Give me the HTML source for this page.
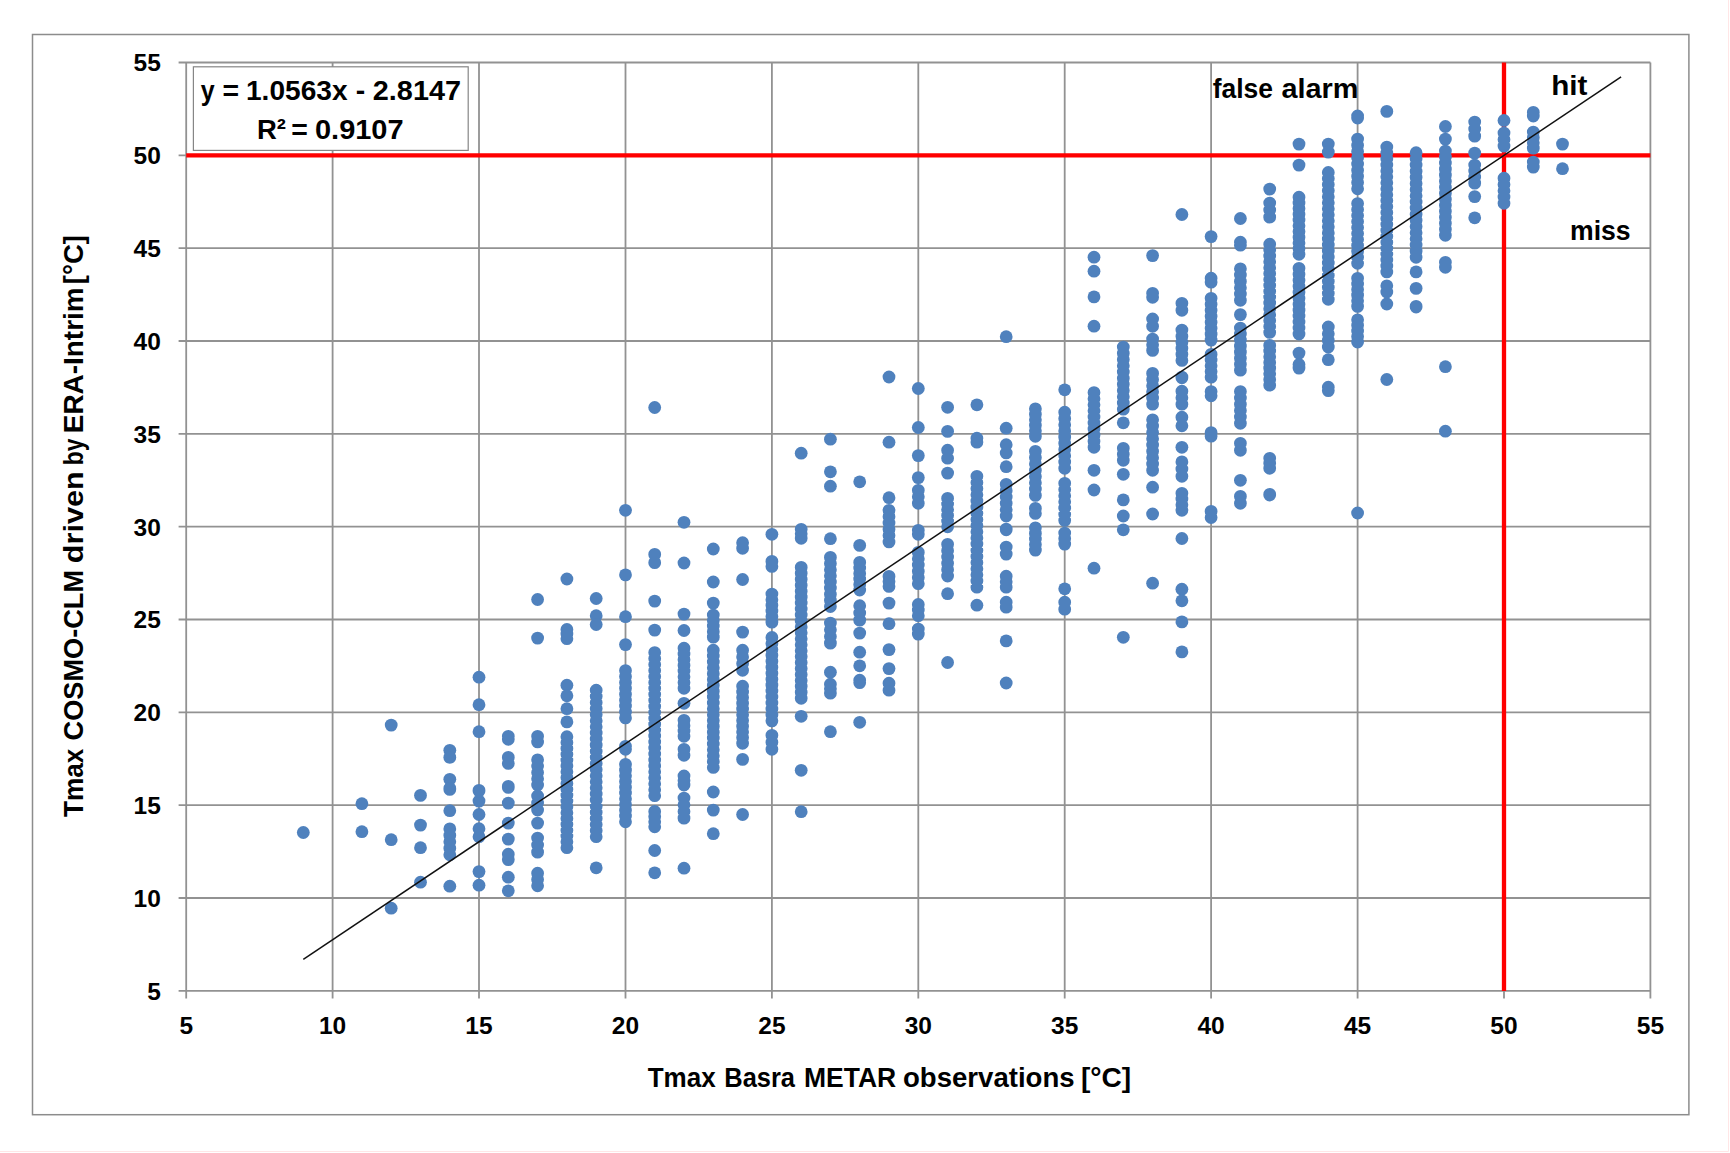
<!DOCTYPE html>
<html lang="en"><head><meta charset="utf-8"><title>Tmax scatter</title>
<style>html,body{margin:0;padding:0;background:#fff}body{width:1730px;height:1153px;overflow:hidden}svg{display:block}text{font-family:"Liberation Sans",Arial,sans-serif;font-weight:bold;fill:#000}.t{font-size:24.5px}.h{font-size:28.4px}</style></head><body>
<svg width="1730" height="1153" viewBox="0 0 1730 1153">
<rect width="1730" height="1153" fill="#fff"/>
<path d="M0 1151.5H1728.5V0" fill="none" stroke="#ffe6e6" stroke-width="1"/>
<rect x="32.5" y="34.5" width="1656.4" height="1080.2" fill="#fff" stroke="#8c8c8c" stroke-width="1.5"/>
<path d="M186.2 62.5V998.6M178.6 990.9H1650.4M332.6 62.5V998.6M178.6 898.0H1650.4M479.0 62.5V998.6M178.6 805.2H1650.4M625.5 62.5V998.6M178.6 712.3H1650.4M771.9 62.5V998.6M178.6 619.5H1650.4M918.3 62.5V998.6M178.6 526.7H1650.4M1064.7 62.5V998.6M178.6 433.8H1650.4M1211.1 62.5V998.6M178.6 341.0H1650.4M1357.6 62.5V998.6M178.6 248.2H1650.4M1504.0 62.5V998.6M178.6 155.3H1650.4M1650.4 62.5V998.6M178.6 62.5H1650.4" fill="none" stroke="#929292" stroke-width="1.8"/>
<path d="M186.2 155.3H1650.4M1504.0 62.5V990.9" fill="none" stroke="#FF0000" stroke-width="4.3"/>
<g fill="#4F81BD" stroke="#4F81BD" stroke-width="12.8" stroke-linecap="round">
<g stroke="none"><circle cx="303.3" cy="832.5" r="6.4"/><circle cx="361.9" cy="803.7" r="6.4"/><circle cx="361.9" cy="831.7" r="6.4"/><circle cx="391.2" cy="725.1" r="6.4"/><circle cx="391.2" cy="839.7" r="6.4"/><circle cx="391.2" cy="908.2" r="6.4"/><circle cx="420.5" cy="795.4" r="6.4"/><circle cx="420.5" cy="825.1" r="6.4"/><circle cx="420.5" cy="847.7" r="6.4"/><circle cx="420.5" cy="882.2" r="6.4"/><circle cx="449.8" cy="750.3" r="6.4"/><circle cx="449.8" cy="757.4" r="6.4"/><circle cx="449.8" cy="779.3" r="6.4"/><circle cx="449.8" cy="810.7" r="6.4"/><circle cx="449.8" cy="886.2" r="6.4"/><circle cx="479.0" cy="677.2" r="6.4"/><circle cx="479.0" cy="704.7" r="6.4"/><circle cx="479.0" cy="731.7" r="6.4"/><circle cx="479.0" cy="801.1" r="6.4"/><circle cx="479.0" cy="814.5" r="6.4"/><circle cx="479.0" cy="871.6" r="6.4"/><circle cx="479.0" cy="885.2" r="6.4"/><circle cx="508.3" cy="803.1" r="6.4"/><circle cx="508.3" cy="823.1" r="6.4"/><circle cx="508.3" cy="839.1" r="6.4"/><circle cx="508.3" cy="877.2" r="6.4"/><circle cx="508.3" cy="890.8" r="6.4"/><circle cx="537.6" cy="599.5" r="6.4"/><circle cx="537.6" cy="638.1" r="6.4"/><circle cx="537.6" cy="823.1" r="6.4"/><circle cx="566.9" cy="579.0" r="6.4"/><circle cx="566.9" cy="685.2" r="6.4"/><circle cx="566.9" cy="695.8" r="6.4"/><circle cx="566.9" cy="708.7" r="6.4"/><circle cx="566.9" cy="721.9" r="6.4"/><circle cx="596.2" cy="598.5" r="6.4"/><circle cx="596.2" cy="615.7" r="6.4"/><circle cx="596.2" cy="624.5" r="6.4"/><circle cx="596.2" cy="867.8" r="6.4"/><circle cx="625.5" cy="510.3" r="6.4"/><circle cx="625.5" cy="574.9" r="6.4"/><circle cx="625.5" cy="616.7" r="6.4"/><circle cx="625.5" cy="644.6" r="6.4"/><circle cx="654.7" cy="407.5" r="6.4"/><circle cx="654.7" cy="601.1" r="6.4"/><circle cx="654.7" cy="630.1" r="6.4"/><circle cx="654.7" cy="850.5" r="6.4"/><circle cx="654.7" cy="872.8" r="6.4"/><circle cx="684.0" cy="522.3" r="6.4"/><circle cx="684.0" cy="563.0" r="6.4"/><circle cx="684.0" cy="614.1" r="6.4"/><circle cx="684.0" cy="630.5" r="6.4"/><circle cx="684.0" cy="703.3" r="6.4"/><circle cx="684.0" cy="868.2" r="6.4"/><circle cx="713.3" cy="549.0" r="6.4"/><circle cx="713.3" cy="582.0" r="6.4"/><circle cx="713.3" cy="603.1" r="6.4"/><circle cx="713.3" cy="792.0" r="6.4"/><circle cx="713.3" cy="810.1" r="6.4"/><circle cx="713.3" cy="833.7" r="6.4"/><circle cx="742.6" cy="579.5" r="6.4"/><circle cx="742.6" cy="632.1" r="6.4"/><circle cx="742.6" cy="759.4" r="6.4"/><circle cx="742.6" cy="814.5" r="6.4"/><circle cx="771.9" cy="534.3" r="6.4"/><circle cx="801.2" cy="453.2" r="6.4"/><circle cx="801.2" cy="716.3" r="6.4"/><circle cx="801.2" cy="770.3" r="6.4"/><circle cx="801.2" cy="811.7" r="6.4"/><circle cx="830.4" cy="439.2" r="6.4"/><circle cx="830.4" cy="471.8" r="6.4"/><circle cx="830.4" cy="486.2" r="6.4"/><circle cx="830.4" cy="538.7" r="6.4"/><circle cx="830.4" cy="672.2" r="6.4"/><circle cx="830.4" cy="731.7" r="6.4"/><circle cx="859.7" cy="481.8" r="6.4"/><circle cx="859.7" cy="545.4" r="6.4"/><circle cx="859.7" cy="633.1" r="6.4"/><circle cx="859.7" cy="652.2" r="6.4"/><circle cx="859.7" cy="665.8" r="6.4"/><circle cx="859.7" cy="722.3" r="6.4"/><circle cx="889.0" cy="377.0" r="6.4"/><circle cx="889.0" cy="442.2" r="6.4"/><circle cx="889.0" cy="497.7" r="6.4"/><circle cx="889.0" cy="603.1" r="6.4"/><circle cx="889.0" cy="623.7" r="6.4"/><circle cx="889.0" cy="649.6" r="6.4"/><circle cx="889.0" cy="668.6" r="6.4"/><circle cx="918.3" cy="388.5" r="6.4"/><circle cx="918.3" cy="427.5" r="6.4"/><circle cx="918.3" cy="455.6" r="6.4"/><circle cx="918.3" cy="477.6" r="6.4"/><circle cx="947.6" cy="407.3" r="6.4"/><circle cx="947.6" cy="431.4" r="6.4"/><circle cx="947.6" cy="473.1" r="6.4"/><circle cx="947.6" cy="593.7" r="6.4"/><circle cx="947.6" cy="662.5" r="6.4"/><circle cx="976.9" cy="404.8" r="6.4"/><circle cx="976.9" cy="605.2" r="6.4"/><circle cx="1006.2" cy="336.7" r="6.4"/><circle cx="1006.2" cy="428.2" r="6.4"/><circle cx="1006.2" cy="466.7" r="6.4"/><circle cx="1006.2" cy="640.9" r="6.4"/><circle cx="1006.2" cy="683.0" r="6.4"/><circle cx="1064.7" cy="389.8" r="6.4"/><circle cx="1064.7" cy="588.8" r="6.4"/><circle cx="1094.0" cy="257.2" r="6.4"/><circle cx="1094.0" cy="271.2" r="6.4"/><circle cx="1094.0" cy="296.9" r="6.4"/><circle cx="1094.0" cy="326.2" r="6.4"/><circle cx="1094.0" cy="470.3" r="6.4"/><circle cx="1094.0" cy="490.0" r="6.4"/><circle cx="1094.0" cy="568.2" r="6.4"/><circle cx="1123.3" cy="422.8" r="6.4"/><circle cx="1123.3" cy="474.3" r="6.4"/><circle cx="1123.3" cy="499.9" r="6.4"/><circle cx="1123.3" cy="516.0" r="6.4"/><circle cx="1123.3" cy="529.8" r="6.4"/><circle cx="1123.3" cy="637.3" r="6.4"/><circle cx="1152.6" cy="255.6" r="6.4"/><circle cx="1152.6" cy="487.2" r="6.4"/><circle cx="1152.6" cy="514.0" r="6.4"/><circle cx="1152.6" cy="583.2" r="6.4"/><circle cx="1181.9" cy="214.5" r="6.4"/><circle cx="1181.9" cy="447.3" r="6.4"/><circle cx="1181.9" cy="538.5" r="6.4"/><circle cx="1181.9" cy="589.2" r="6.4"/><circle cx="1181.9" cy="600.8" r="6.4"/><circle cx="1181.9" cy="621.9" r="6.4"/><circle cx="1181.9" cy="651.9" r="6.4"/><circle cx="1211.1" cy="236.6" r="6.4"/><circle cx="1240.4" cy="218.5" r="6.4"/><circle cx="1240.4" cy="314.6" r="6.4"/><circle cx="1240.4" cy="480.3" r="6.4"/><circle cx="1269.7" cy="189.1" r="6.4"/><circle cx="1299.0" cy="144.1" r="6.4"/><circle cx="1299.0" cy="165.1" r="6.4"/><circle cx="1299.0" cy="353.1" r="6.4"/><circle cx="1328.3" cy="144.1" r="6.4"/><circle cx="1328.3" cy="152.1" r="6.4"/><circle cx="1328.3" cy="359.7" r="6.4"/><circle cx="1357.6" cy="513.0" r="6.4"/><circle cx="1386.8" cy="111.4" r="6.4"/><circle cx="1386.8" cy="304.0" r="6.4"/><circle cx="1386.8" cy="379.5" r="6.4"/><circle cx="1416.1" cy="271.9" r="6.4"/><circle cx="1416.1" cy="288.4" r="6.4"/><circle cx="1445.4" cy="126.5" r="6.4"/><circle cx="1445.4" cy="139.1" r="6.4"/><circle cx="1445.4" cy="366.7" r="6.4"/><circle cx="1445.4" cy="431.2" r="6.4"/><circle cx="1474.7" cy="153.1" r="6.4"/><circle cx="1474.7" cy="196.6" r="6.4"/><circle cx="1474.7" cy="217.8" r="6.4"/><circle cx="1504.0" cy="120.5" r="6.4"/><circle cx="1562.5" cy="144.1" r="6.4"/><circle cx="1562.5" cy="168.7" r="6.4"/></g>
<path d="M449.8 788.4V790.03" stroke-dasharray="0 1.024"/><path d="M449.8 828.9V855.35" stroke-dasharray="0 6.462"/><path d="M479.0 790.4V791.64" stroke-dasharray="0 0.623"/><path d="M479.0 828.7V837.32" stroke-dasharray="0 8.014"/><path d="M508.3 736.3V739.92" stroke-dasharray="0 3.005"/><path d="M508.3 757.4V763.97" stroke-dasharray="0 6.011"/><path d="M508.3 786.4V788.03" stroke-dasharray="0 1.024"/><path d="M508.3 854.2V860.16" stroke-dasharray="0 5.410"/><path d="M537.6 736.3V742.53" stroke-dasharray="0 5.610"/><path d="M537.6 759.8V785.61" stroke-dasharray="0 6.311"/><path d="M537.6 796.0V810.67" stroke-dasharray="0 7.013"/><path d="M537.6 838.1V852.75" stroke-dasharray="0 7.013"/><path d="M537.6 873.2V886.41" stroke-dasharray="0 6.311"/><path d="M566.9 629.5V639.34" stroke-dasharray="0 4.608"/><path d="M566.9 736.7V848.34" stroke-dasharray="0 5.843"/><path d="M596.2 690.2V837.32" stroke-dasharray="0 6.104"/><path d="M625.5 670.6V718.48" stroke-dasharray="0 5.911"/><path d="M625.5 746.3V749.94" stroke-dasharray="0 3.005"/><path d="M625.5 764.4V822.29" stroke-dasharray="0 5.733"/><path d="M654.7 554.4V563.20" stroke-dasharray="0 8.237"/><path d="M654.7 652.6V796.25" stroke-dasharray="0 5.962"/><path d="M654.7 811.5V827.30" stroke-dasharray="0 5.076"/><path d="M684.0 648.2V688.83" stroke-dasharray="0 5.725"/><path d="M684.0 720.3V736.92" stroke-dasharray="0 5.343"/><path d="M684.0 749.3V755.95" stroke-dasharray="0 6.011"/><path d="M684.0 776.0V785.61" stroke-dasharray="0 4.508"/><path d="M684.0 798.1V818.69" stroke-dasharray="0 6.679"/><path d="M713.3 615.1V637.74" stroke-dasharray="0 5.510"/><path d="M713.3 650.2V767.97" stroke-dasharray="0 5.861"/><path d="M742.6 542.7V548.96" stroke-dasharray="0 5.610"/><path d="M742.6 650.2V670.80" stroke-dasharray="0 6.679"/><path d="M742.6 686.2V743.93" stroke-dasharray="0 5.710"/><path d="M771.9 561.4V566.99" stroke-dasharray="0 5.009"/><path d="M771.9 594.1V622.71" stroke-dasharray="0 5.610"/><path d="M771.9 637.5V721.49" stroke-dasharray="0 5.954"/><path d="M771.9 735.3V749.94" stroke-dasharray="0 7.013"/><path d="M801.2 529.3V538.94" stroke-dasharray="0 4.508"/><path d="M801.2 567.4V698.85" stroke-dasharray="0 5.948"/><path d="M830.4 557.4V607.08" stroke-dasharray="0 6.139"/><path d="M830.4 623.1V643.75" stroke-dasharray="0 6.679"/><path d="M830.4 684.2V693.84" stroke-dasharray="0 4.508"/><path d="M859.7 562.4V590.65" stroke-dasharray="0 5.534"/><path d="M859.7 605.7V620.71" stroke-dasharray="0 7.213"/><path d="M859.7 680.2V683.22" stroke-dasharray="0 2.404"/><path d="M889.0 510.3V542.55" stroke-dasharray="0 6.331"/><path d="M889.0 576.4V587.05" stroke-dasharray="0 5.020"/><path d="M889.0 683.2V690.83" stroke-dasharray="0 7.013"/><path d="M918.3 490.3V503.88" stroke-dasharray="0 6.512"/><path d="M918.3 530.3V534.93" stroke-dasharray="0 4.007"/><path d="M918.3 552.4V584.24" stroke-dasharray="0 6.256"/><path d="M918.3 604.5V616.30" stroke-dasharray="0 5.610"/><path d="M918.3 629.1V634.73" stroke-dasharray="0 5.009"/><path d="M947.6 450.2V458.79" stroke-dasharray="0 8.014"/><path d="M947.6 498.4V527.28" stroke-dasharray="0 5.665"/><path d="M947.6 544.3V576.63" stroke-dasharray="0 6.336"/><path d="M976.9 438.2V442.86" stroke-dasharray="0 4.007"/><path d="M976.9 476.3V587.79" stroke-dasharray="0 6.160"/><path d="M1006.2 444.7V453.48" stroke-dasharray="0 8.215"/><path d="M1006.2 484.3V516.66" stroke-dasharray="0 6.347"/><path d="M1006.2 529.1V530.41" stroke-dasharray="0 0.725"/><path d="M1006.2 547.1V554.73" stroke-dasharray="0 7.013"/><path d="M1006.2 576.2V587.79" stroke-dasharray="0 5.510"/><path d="M1006.2 602.2V607.83" stroke-dasharray="0 5.009"/><path d="M1035.4 408.8V436.85" stroke-dasharray="0 5.490"/><path d="M1035.4 451.3V495.95" stroke-dasharray="0 6.297"/><path d="M1035.4 508.4V513.98" stroke-dasharray="0 5.009"/><path d="M1035.4 527.8V550.73" stroke-dasharray="0 5.579"/><path d="M1064.7 412.2V468.90" stroke-dasharray="0 6.233"/><path d="M1064.7 483.3V521.00" stroke-dasharray="0 6.178"/><path d="M1064.7 533.1V544.72" stroke-dasharray="0 5.510"/><path d="M1064.7 602.2V609.83" stroke-dasharray="0 7.013"/><path d="M1094.0 392.6V447.87" stroke-dasharray="0 6.078"/><path d="M1123.3 347.1V409.80" stroke-dasharray="0 6.211"/><path d="M1123.3 448.3V460.89" stroke-dasharray="0 6.011"/><path d="M1152.6 293.3V297.87" stroke-dasharray="0 4.007"/><path d="M1152.6 319.0V326.92" stroke-dasharray="0 7.283"/><path d="M1152.6 339.1V350.96" stroke-dasharray="0 5.645"/><path d="M1152.6 373.4V404.79" stroke-dasharray="0 6.157"/><path d="M1152.6 419.8V470.91" stroke-dasharray="0 6.311"/><path d="M1181.9 303.3V310.89" stroke-dasharray="0 7.013"/><path d="M1181.9 330.1V360.98" stroke-dasharray="0 6.065"/><path d="M1181.9 377.1V378.41" stroke-dasharray="0 0.671"/><path d="M1181.9 391.2V404.79" stroke-dasharray="0 6.512"/><path d="M1181.9 417.2V426.43" stroke-dasharray="0 8.616"/><path d="M1181.9 461.9V476.92" stroke-dasharray="0 7.213"/><path d="M1181.9 493.3V510.98" stroke-dasharray="0 5.677"/><path d="M1211.1 278.2V282.84" stroke-dasharray="0 4.007"/><path d="M1211.1 298.3V340.67" stroke-dasharray="0 5.972"/><path d="M1211.1 354.4V377.74" stroke-dasharray="0 5.693"/><path d="M1211.1 391.6V396.37" stroke-dasharray="0 4.208"/><path d="M1211.1 432.6V436.85" stroke-dasharray="0 3.606"/><path d="M1211.1 511.4V518.07" stroke-dasharray="0 6.087"/><path d="M1240.4 242.2V245.77" stroke-dasharray="0 3.005"/><path d="M1240.4 268.8V300.87" stroke-dasharray="0 6.291"/><path d="M1240.4 328.1V370.73" stroke-dasharray="0 6.011"/><path d="M1240.4 391.6V423.82" stroke-dasharray="0 6.331"/><path d="M1240.4 443.3V450.87" stroke-dasharray="0 7.013"/><path d="M1240.4 496.4V503.97" stroke-dasharray="0 6.936"/><path d="M1269.7 203.1V217.72" stroke-dasharray="0 7.013"/><path d="M1269.7 244.2V332.93" stroke-dasharray="0 5.877"/><path d="M1269.7 345.4V385.75" stroke-dasharray="0 5.686"/><path d="M1269.7 458.3V468.90" stroke-dasharray="0 5.009"/><path d="M1269.7 494.3V495.63" stroke-dasharray="0 0.677"/><path d="M1299.0 197.2V254.90" stroke-dasharray="0 5.710"/><path d="M1299.0 268.3V334.66" stroke-dasharray="0 5.976"/><path d="M1299.0 364.5V368.72" stroke-dasharray="0 3.606"/><path d="M1328.3 172.5V299.98" stroke-dasharray="0 6.039"/><path d="M1328.3 327.0V347.68" stroke-dasharray="0 6.679"/><path d="M1328.3 387.2V391.16" stroke-dasharray="0 3.406"/><path d="M1357.6 116.0V118.65" stroke-dasharray="0 2.004"/><path d="M1357.6 139.1V189.38" stroke-dasharray="0 6.211"/><path d="M1357.6 203.6V263.91" stroke-dasharray="0 5.971"/><path d="M1357.6 278.3V306.99" stroke-dasharray="0 5.610"/><path d="M1357.6 319.8V342.68" stroke-dasharray="0 5.566"/><path d="M1386.8 147.1V272.53" stroke-dasharray="0 5.944"/><path d="M1386.8 285.8V292.56" stroke-dasharray="0 6.211"/><path d="M1416.1 152.7V257.90" stroke-dasharray="0 6.152"/><path d="M1416.1 306.4V307.61" stroke-dasharray="0 0.623"/><path d="M1445.4 151.1V235.86" stroke-dasharray="0 6.011"/><path d="M1445.4 262.3V267.92" stroke-dasharray="0 5.009"/><path d="M1474.7 122.1V136.68" stroke-dasharray="0 7.013"/><path d="M1474.7 165.1V183.77" stroke-dasharray="0 6.011"/><path d="M1504.0 133.1V146.70" stroke-dasharray="0 6.512"/><path d="M1504.0 178.2V203.80" stroke-dasharray="0 6.261"/><path d="M1533.3 112.4V116.65" stroke-dasharray="0 3.606"/><path d="M1533.3 132.1V148.70" stroke-dasharray="0 5.343"/><path d="M1533.3 162.1V167.74" stroke-dasharray="0 5.009"/>
</g>
<line x1="303.3" y1="959.4" x2="1621.1" y2="76.9" stroke="#111" stroke-width="1.5"/>
<text class="t" x="186.2" y="1033.6" text-anchor="middle">5</text>
<text class="t" x="160.8" y="999.6" text-anchor="end">5</text>
<text class="t" x="332.6" y="1033.6" text-anchor="middle">10</text>
<text class="t" x="160.8" y="906.8" text-anchor="end">10</text>
<text class="t" x="479.0" y="1033.6" text-anchor="middle">15</text>
<text class="t" x="160.8" y="814.0" text-anchor="end">15</text>
<text class="t" x="625.5" y="1033.6" text-anchor="middle">20</text>
<text class="t" x="160.8" y="721.1" text-anchor="end">20</text>
<text class="t" x="771.9" y="1033.6" text-anchor="middle">25</text>
<text class="t" x="160.8" y="628.3" text-anchor="end">25</text>
<text class="t" x="918.3" y="1033.6" text-anchor="middle">30</text>
<text class="t" x="160.8" y="535.5" text-anchor="end">30</text>
<text class="t" x="1064.7" y="1033.6" text-anchor="middle">35</text>
<text class="t" x="160.8" y="442.6" text-anchor="end">35</text>
<text class="t" x="1211.1" y="1033.6" text-anchor="middle">40</text>
<text class="t" x="160.8" y="349.8" text-anchor="end">40</text>
<text class="t" x="1357.6" y="1033.6" text-anchor="middle">45</text>
<text class="t" x="160.8" y="257.0" text-anchor="end">45</text>
<text class="t" x="1504.0" y="1033.6" text-anchor="middle">50</text>
<text class="t" x="160.8" y="164.1" text-anchor="end">50</text>
<text class="t" x="1650.4" y="1033.6" text-anchor="middle">55</text>
<text class="t" x="160.8" y="71.3" text-anchor="end">55</text>
<text class="h" x="647.7" y="1087.0" textLength="68.0" lengthAdjust="spacingAndGlyphs">Tmax</text>
<text class="h" x="724.3" y="1087.0" textLength="70.7" lengthAdjust="spacingAndGlyphs">Basra</text>
<text class="h" x="804.0" y="1087.0" textLength="92.2" lengthAdjust="spacingAndGlyphs">METAR</text>
<text class="h" x="903.0" y="1087.0" textLength="171.6" lengthAdjust="spacingAndGlyphs">observations</text>
<text class="h" x="1081.0" y="1087.0" textLength="50.2" lengthAdjust="spacingAndGlyphs">[°C]</text>
<g transform="translate(83,0) rotate(-90)">
<text class="h" x="-817.0" y="0.0" textLength="68.4" lengthAdjust="spacingAndGlyphs">Tmax</text>
<text class="h" x="-740.4" y="0.0" textLength="170.4" lengthAdjust="spacingAndGlyphs">COSMO-CLM</text>
<text class="h" x="-563.2" y="0.0" textLength="91.8" lengthAdjust="spacingAndGlyphs">driven</text>
<text class="h" x="-465.2" y="0.0" textLength="26.6" lengthAdjust="spacingAndGlyphs">by</text>
<text class="h" x="-433.2" y="0.0" textLength="145.8" lengthAdjust="spacingAndGlyphs">ERA-Intrim</text>
<text class="h" x="-284.2" y="0.0" textLength="49.2" lengthAdjust="spacingAndGlyphs">[°C]</text>
</g>
<text class="h" x="1212.7" y="98.3" textLength="60.3" lengthAdjust="spacingAndGlyphs">false</text>
<text class="h" x="1281.4" y="98.3" textLength="77.0" lengthAdjust="spacingAndGlyphs">alarm</text>
<text class="h" x="1551.2" y="94.7" textLength="36.2" lengthAdjust="spacingAndGlyphs">hit</text>
<text class="h" x="1570.0" y="239.6" textLength="60.6" lengthAdjust="spacingAndGlyphs">miss</text>
<rect x="193.4" y="66.8" width="274.8" height="83.6" fill="#fff" stroke="#868686" stroke-width="1.2"/>
<text class="h" x="200.8" y="99.7" textLength="13.9" lengthAdjust="spacingAndGlyphs">y</text>
<text class="h" x="246.0" y="99.7" textLength="101.5" lengthAdjust="spacingAndGlyphs">1.0563x</text>
<text class="h" x="372.8" y="99.7" textLength="88.2" lengthAdjust="spacingAndGlyphs">2.8147</text>
<text class="h" x="257.0" y="138.6" textLength="29.0" lengthAdjust="spacingAndGlyphs">R²</text>
<text class="h" x="315.0" y="138.6" textLength="88.6" lengthAdjust="spacingAndGlyphs">0.9107</text>
<text class="h" x="230.7" y="99.7" text-anchor="middle">=</text>
<text class="h" x="360.5" y="99.7" text-anchor="middle">-</text>
<text class="h" x="299.6" y="138.6" text-anchor="middle">=</text>
</svg></body></html>
